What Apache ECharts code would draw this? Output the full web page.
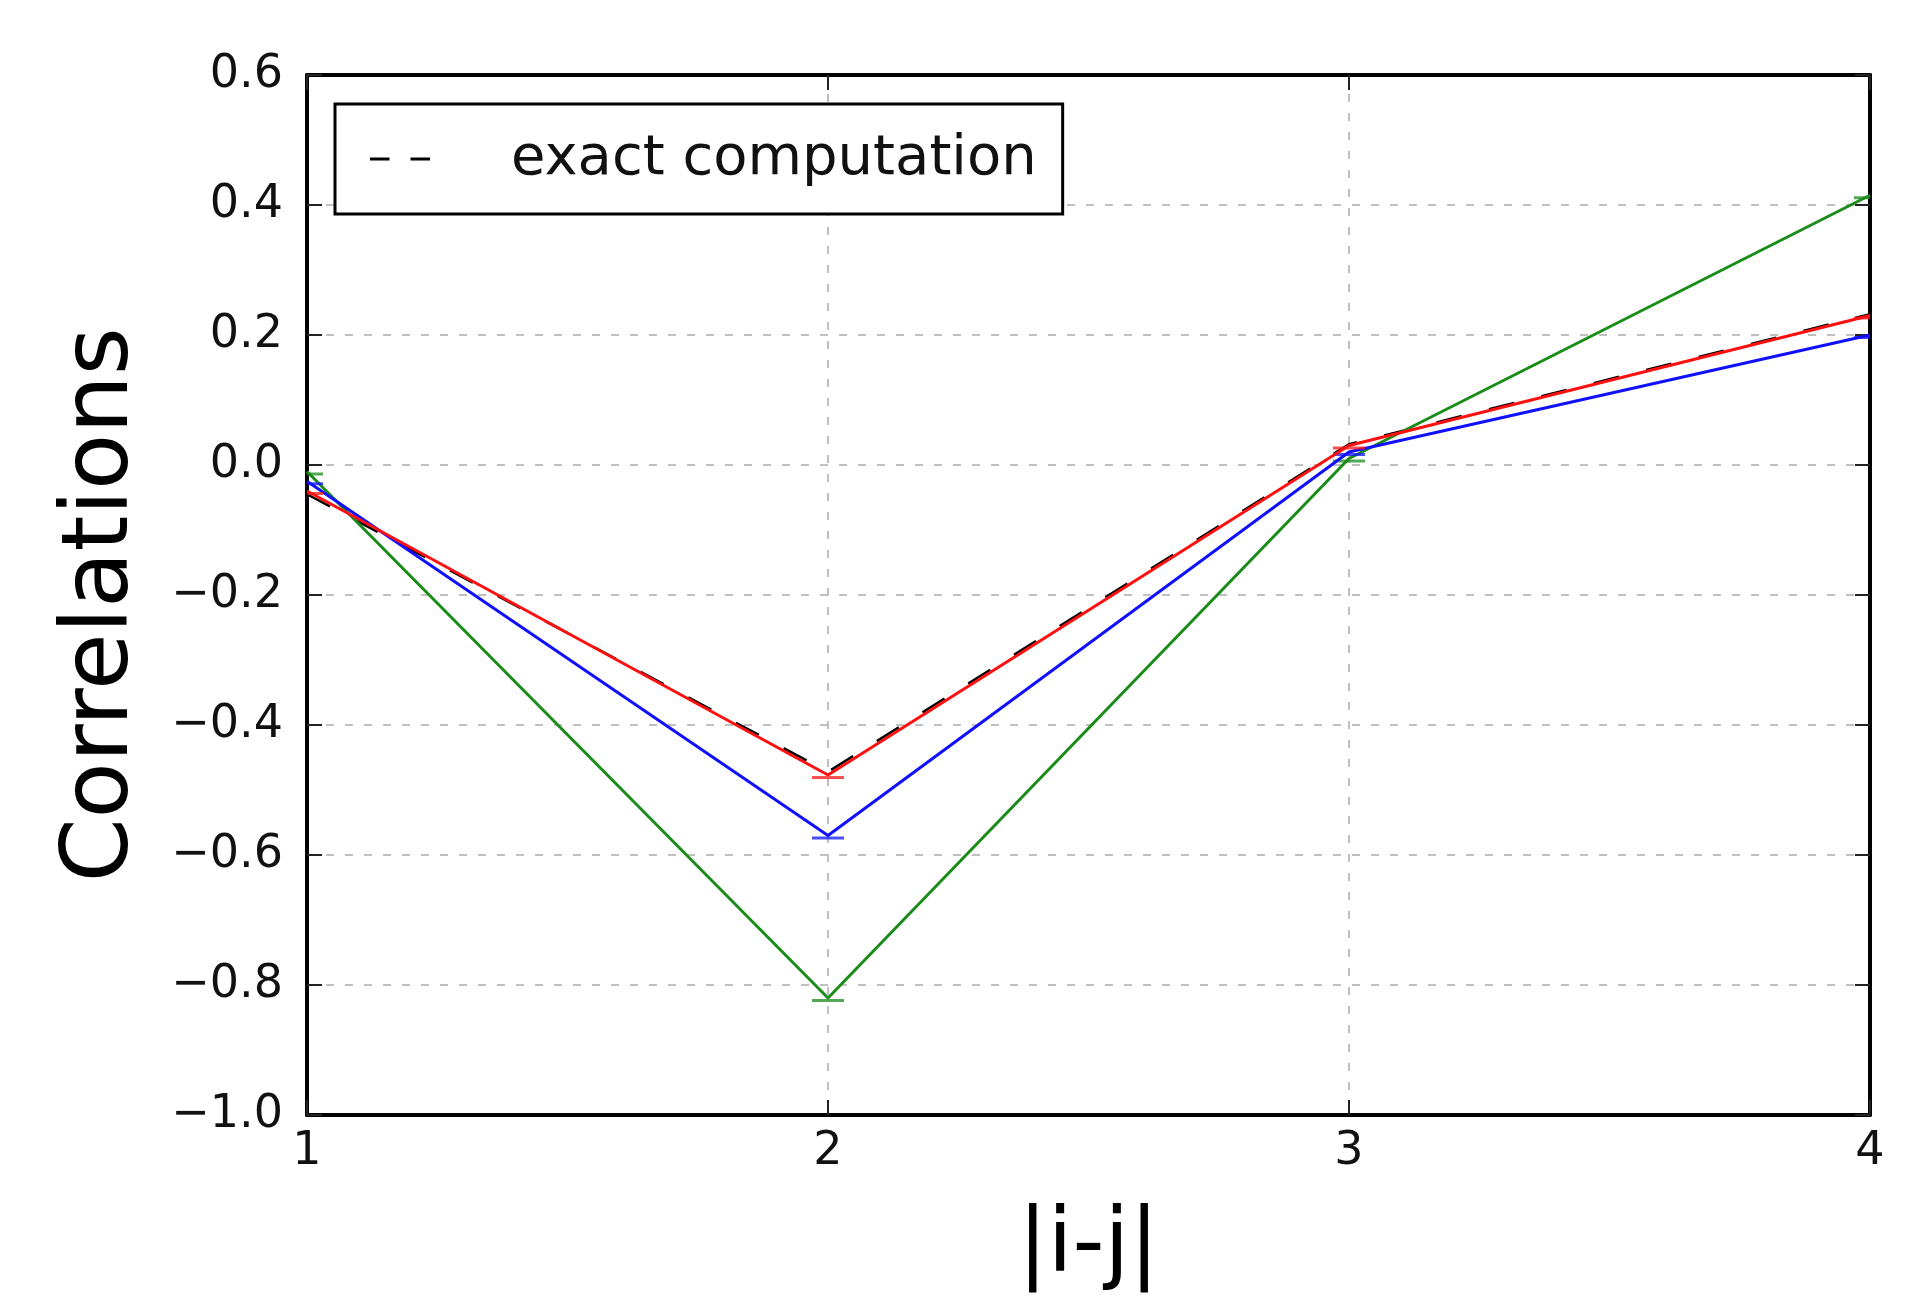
<!DOCTYPE html>
<html>
<head>
<meta charset="utf-8">
<script src="https://cdn.jsdelivr.net/npm/echarts@6/dist/echarts.min.js"></script>
<style>
html,body{margin:0;padding:0;background:#fff;}
#chart{width:1932px;height:1297px;}
</style>
</head>
<body>
<div id="chart"></div>
<script>
// Data
const xs = [1, 2, 3, 4];
const exactVals = [-0.045, -0.472, 0.032, 0.232];
const greenVals = [-0.01, -0.82, 0.01, 0.415];
const blueVals = [-0.025, -0.57, 0.02, 0.2];
const redVals = [-0.04, -0.477, 0.03, 0.23];
const yTicks = { min: -1.0, max: 0.6, step: 0.2 };
const xTicks = { min: 1, max: 4, step: 1 };

const pairs = vals => xs.map((x, i) => [x, vals[i]]);
const FONT = 'DejaVu Sans';
const fmtY = v => { const s = (Math.round(v * 10) / 10).toFixed(1); return s.replace('-', '\u2212'); };

const chart = echarts.init(document.getElementById('chart'), null, { renderer: 'canvas' });
const tickStyle = { show: true, inside: true, length: 15, lineStyle: { color: '#222', width: 2 } };
const axisLine = { show: true, onZero: false, lineStyle: { color: '#000', width: 4 } };
const grid = { type: [8, 11], color: '#c0c0c0', width: 2 };

function lineSeries(name, vals, color, z, extra) {
  return Object.assign({
    name: name, type: 'line', data: pairs(vals), symbol: 'none',
    lineStyle: { color: color, width: 3 }, itemStyle: { color: color }, z: z
  }, extra || {});
}
function capSeries(vals, color, z) {
  return {
    type: 'custom', clip: true, z: z, data: pairs(vals),
    encode: { x: 0, y: 1 },
    renderItem: function (params, api) {
      const p = api.coord([api.value(0), api.value(1)]);
      return { type: 'rect', shape: { x: p[0] - 16, y: p[1] + 1, width: 32, height: 3 },
               style: { fill: color, opacity: 0.75 } };
    }
  };
}

chart.setOption({
  animation: false,
  backgroundColor: '#fff',
  grid: { left: 307, right: 62, top: 75, bottom: 178, containLabel: false },
  legend: {
    data: ['exact computation'],
    left: 335, top: 104,
    orient: 'vertical',
    backgroundColor: '#fff',
    borderColor: '#000', borderWidth: 3, borderRadius: 0,
    padding: [27, 26, 27, 35],
    icon: 'path://M0,0H26V4H0Z M54,0H80V4H54Z',
    itemWidth: 80, itemHeight: 3,
    itemStyle: { color: '#000' },
    textStyle: { fontFamily: FONT, fontSize: 56, color: '#111', padding: [0, 0, 0, 66] }
  },
  xAxis: [{
    type: 'value', min: xTicks.min, max: xTicks.max, interval: xTicks.step,
    position: 'bottom',
    axisLine: axisLine, axisTick: tickStyle,
    axisLabel: { fontFamily: FONT, fontSize: 46, color: '#111', margin: 14 },
    splitLine: { show: true, lineStyle: grid },
    name: '|i-j|', nameLocation: 'middle', nameGap: 88,
    nameTextStyle: { fontFamily: FONT, fontSize: 89, color: '#000' }
  }, {
    type: 'value', min: xTicks.min, max: xTicks.max, interval: xTicks.step,
    position: 'top',
    axisLine: axisLine, axisTick: tickStyle,
    axisLabel: { show: false }, splitLine: { show: false }
  }],
  yAxis: [{
    type: 'value', min: yTicks.min, max: yTicks.max, interval: yTicks.step,
    position: 'left',
    axisLine: axisLine, axisTick: tickStyle,
    axisLabel: { fontFamily: FONT, fontSize: 46, color: '#111', margin: 24, formatter: fmtY },
    splitLine: { show: true, lineStyle: grid },
    name: 'Correlations', nameLocation: 'middle', nameGap: 158, nameRotate: 90,
    nameTextStyle: { fontFamily: FONT, fontSize: 92, color: '#000', padding: [0, 20, 0, 0] }
  }, {
    type: 'value', min: yTicks.min, max: yTicks.max, interval: yTicks.step,
    position: 'right',
    axisLine: axisLine, axisTick: tickStyle,
    axisLabel: { show: false }, splitLine: { show: false }
  }],
  series: [
    lineSeries('exact computation', exactVals, '#000', 2, { lineStyle: { color: '#000', width: 2.5, type: [26, 28] } }),
    lineSeries('g', greenVals, '#1a8c1a', 3),
    capSeries(greenVals, '#1a8c1a', 3),
    lineSeries('b', blueVals, '#1010ff', 4),
    capSeries(blueVals, '#1010ff', 4),
    lineSeries('r', redVals, '#ff1010', 5),
    capSeries(redVals, '#ff1010', 5)
  ]
});
</script>
</body>
</html>
